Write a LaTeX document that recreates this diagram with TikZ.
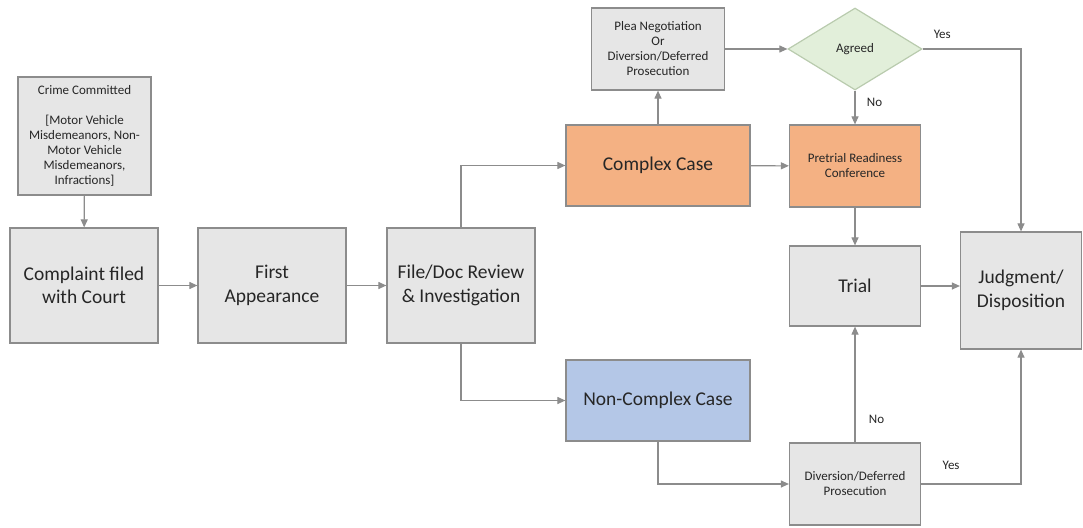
\documentclass[tikz,border=0pt]{standalone}
\usepackage{fontspec}
\setmainfont{Carlito}
\usepackage{tikz}
\usetikzlibrary{shapes.geometric,arrows.meta}

\definecolor{boxgray}{HTML}{E6E6E6}
\definecolor{linegray}{HTML}{8C8C8C}
\definecolor{textdark}{HTML}{262626}
\definecolor{complexorange}{HTML}{F4B183}
\definecolor{simpleblue}{HTML}{B4C7E7}
\definecolor{agreegreen}{HTML}{E2EFDA}
\definecolor{agreeline}{HTML}{B9CBAE}

\begin{document}
\begin{tikzpicture}[x=1pt,y=-1pt,
		stage/.style={draw=linegray, fill=boxgray, line width=1.2pt, text=textdark, align=center, inner sep=2pt},
		bigstage/.style={stage, minimum width=148pt, minimum height=115pt, font=\fontsize{19.5}{23.5}\selectfont},
		smalltext/.style={font=\fontsize{13}{15}\selectfont},
		flow/.style={draw=linegray, line width=1.1pt, -{Triangle[length=8pt,width=7pt]}},
		answer/.style={text=textdark, font=\fontsize{13}{15}\selectfont}]
			\useasboundingbox (0,0) rectangle (1083,527);
			\node (crime) [stage, smalltext, minimum width=133pt, minimum height=118pt] at (84.5,136) {Crime Committed\\[15pt][Motor Vehicle\\Misdemeanors, Non-\\Motor Vehicle\\Misdemeanors,\\Infractions]};
			\node (complaint) [bigstage] at (84,285.5) {Complaint filed\\with Court};
			\node (first) [bigstage] at (272,285.5) {First\\Appearance};
			\node (review) [bigstage] at (461,285.5) {File/Doc Review\\\& Investigation};
			\node (complex) [stage, fill=complexorange, minimum width=184pt, minimum height=81pt, font=\fontsize{19.5}{23.5}\selectfont] at (658,165.5) {Complex Case};
			\node (noncomplex) [stage, fill=simpleblue, minimum width=184pt, minimum height=81pt, font=\fontsize{19.5}{23.5}\selectfont] at (658,400.5) {Non-Complex Case};
			\node (plea) [stage, smalltext, minimum width=133pt, minimum height=82pt] at (658,49) {Plea Negotiation\\Or\\Diversion/Deferred\\Prosecution};
			\node (agreed) [diamond, draw=agreeline, fill=agreegreen, line width=1.2pt, text=textdark, smalltext, minimum width=134pt, minimum height=82pt, inner sep=0pt] at (855,49) {Agreed};
			\node (pretrial) [stage, fill=complexorange, smalltext, minimum width=131pt, minimum height=82pt] at (855,166) {Pretrial Readiness\\Conference};
			\node (trial) [stage, minimum width=131pt, minimum height=80pt, font=\fontsize{19.5}{23.5}\selectfont] at (855,286) {Trial};
			\node (judgment) [stage, minimum width=121pt, minimum height=117pt, font=\fontsize{19.5}{23.5}\selectfont] at (1021,290.5) {Judgment/\\Disposition};
			\node (diversion) [stage, smalltext, minimum width=131pt, minimum height=82pt] at (855,484) {Diversion/Deferred\\Prosecution};

			\draw [flow] (crime) -- (complaint);
			\draw [flow] (complaint) -- (first);
			\draw [flow] (first) -- (review);
			\draw [flow] (review.north) |- (complex.west);
			\draw [flow] (review.south) |- (noncomplex.west);
			\draw [flow] (complex) -- (pretrial);
			\draw [flow] (complex) -- (plea);
			\draw [flow] (plea) -- (agreed);
			\draw [flow] (agreed) -- node [answer, pos=0.35, right=8pt] {No} (pretrial);
			\draw [flow] (agreed.east) -- node [answer, pos=0.2, above=7pt] {Yes} (agreed.east -| judgment.north) -- (judgment.north);
			\draw [flow] (pretrial) -- (trial);
			\draw [flow] (trial.east) -- (trial.east -| judgment.west);
			\draw [flow] (noncomplex.south) |- (diversion.west);
			\draw [flow] (diversion) -- node [answer, pos=0.2, right=10pt] {No} (trial);
			\draw [flow] (diversion.east) -- node [answer, pos=0.3, above=11pt] {Yes} (diversion.east -| judgment.south) -- (judgment.south);
		\end{tikzpicture}
\end{document}
